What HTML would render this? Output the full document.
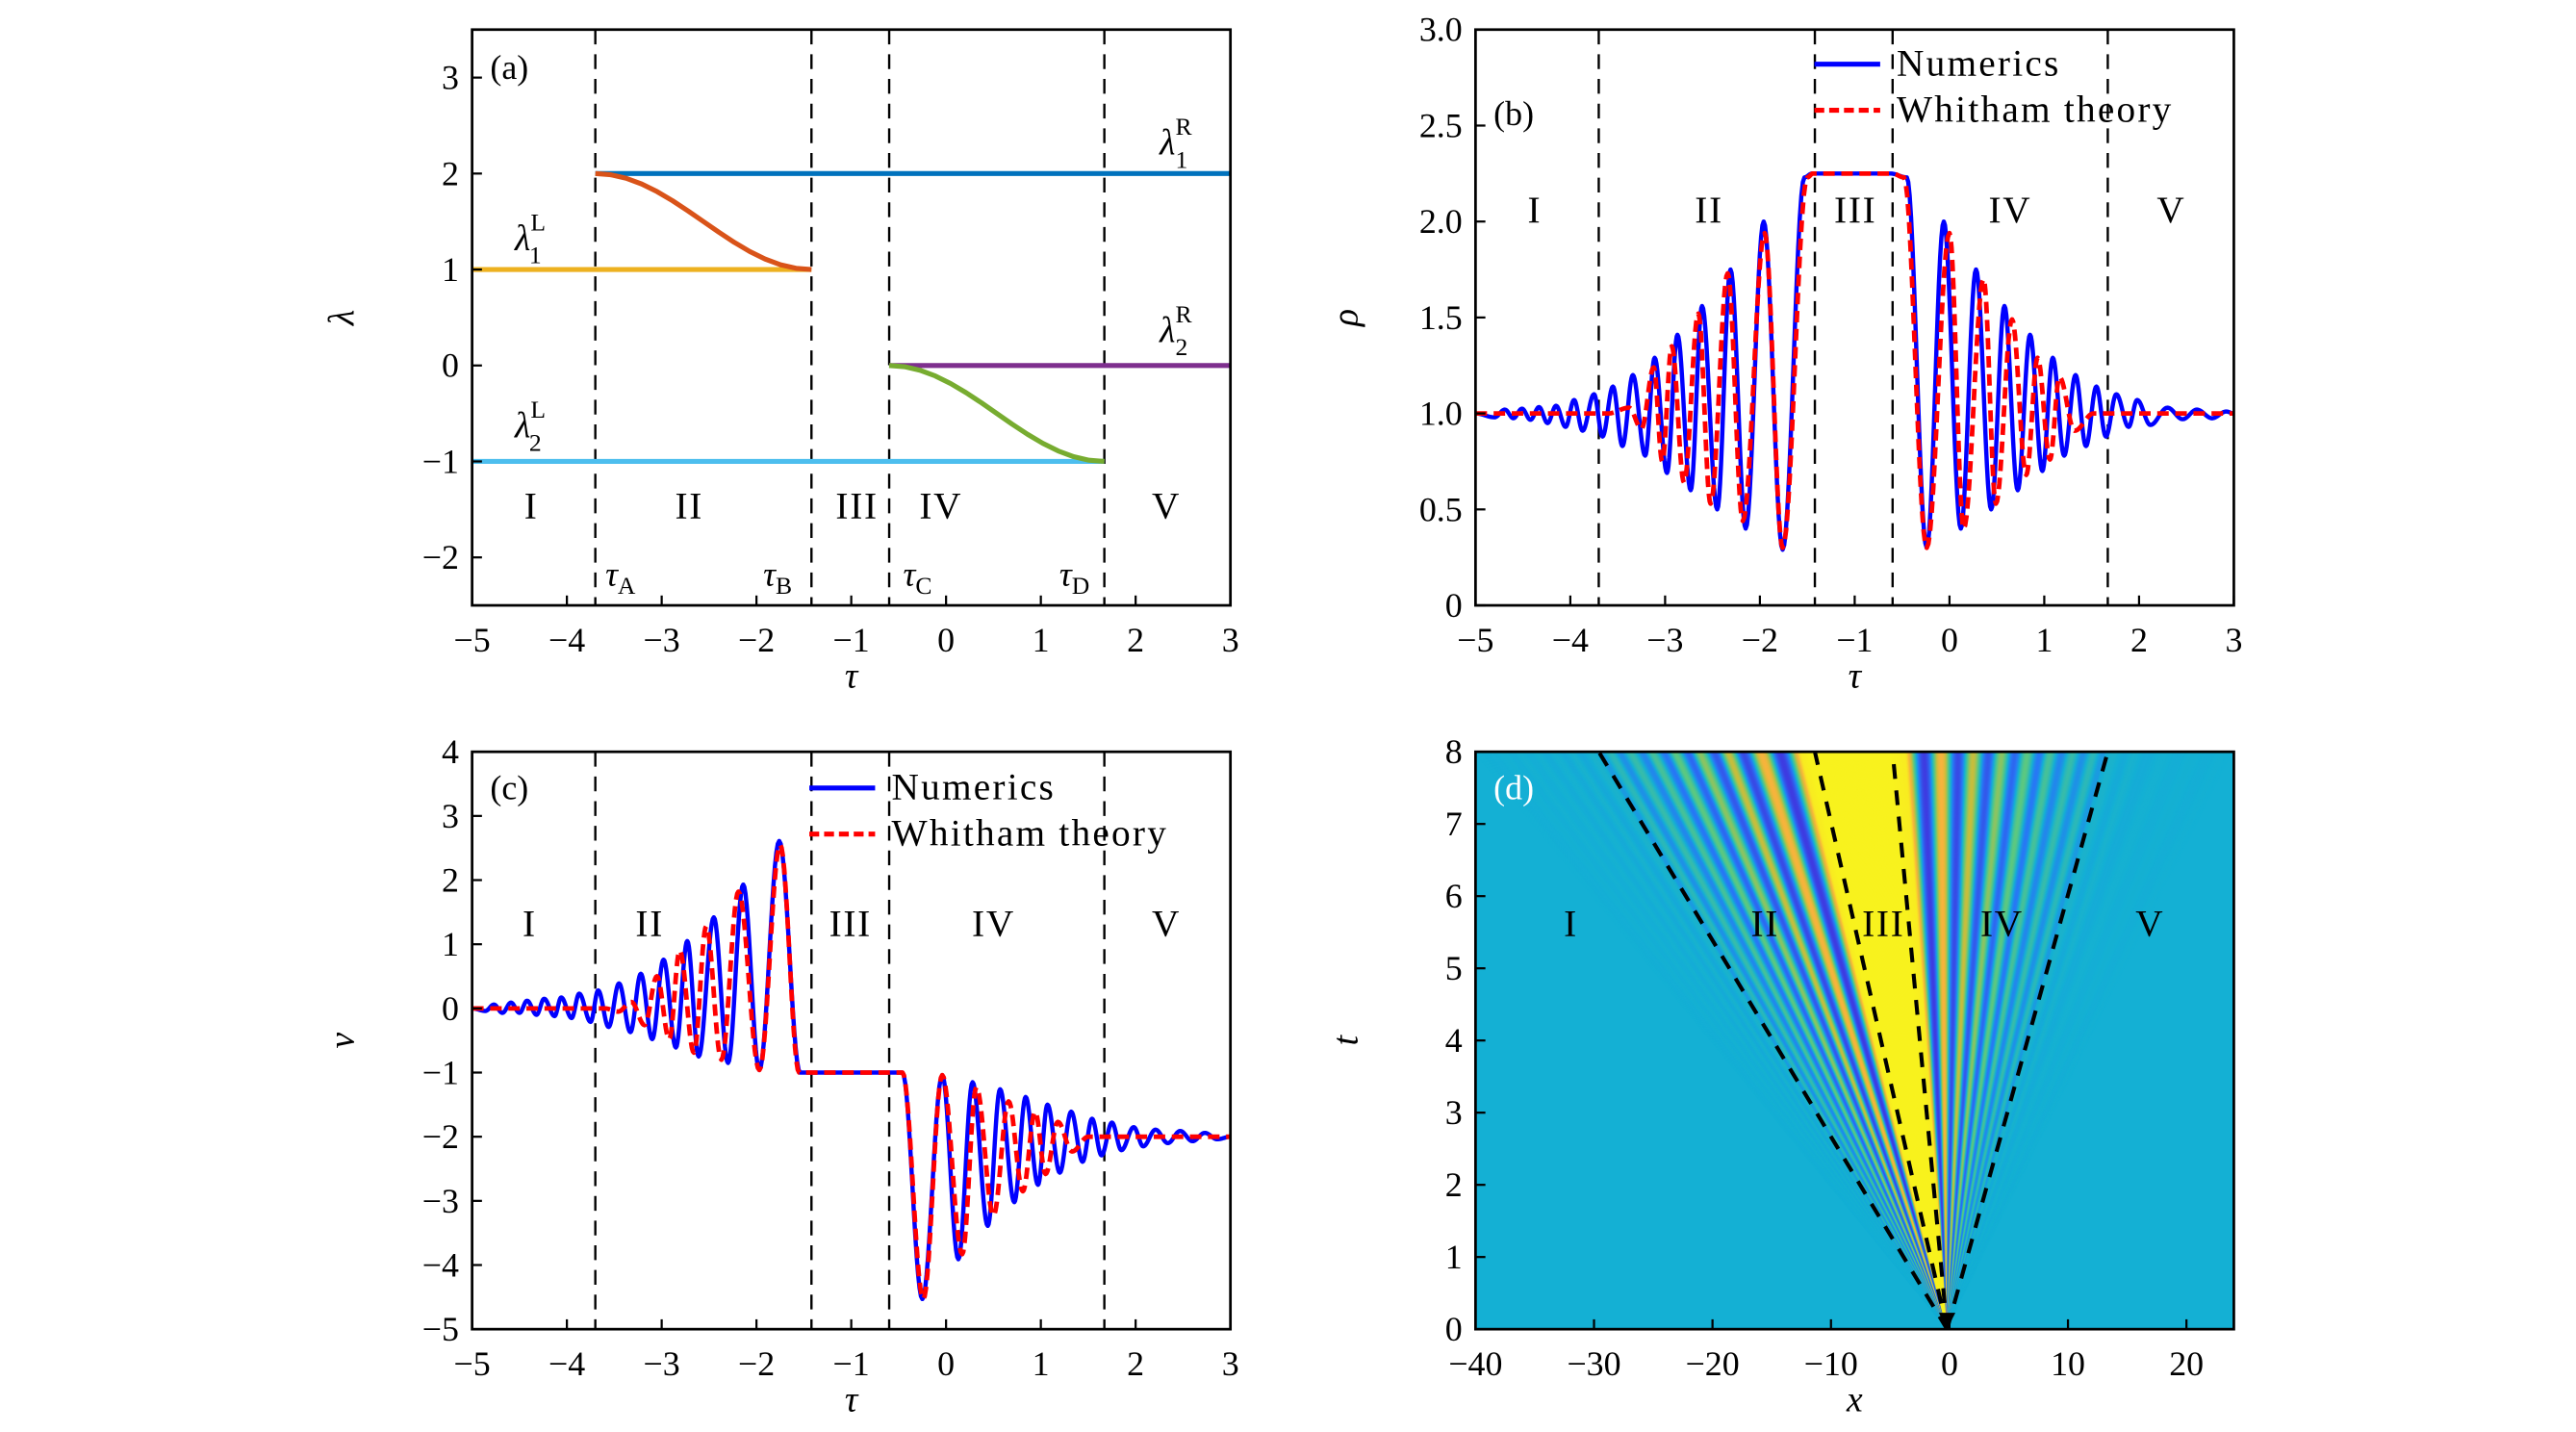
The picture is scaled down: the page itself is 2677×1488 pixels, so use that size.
<!DOCTYPE html>
<html><head><meta charset="utf-8"><style>
html,body{margin:0;padding:0;background:#fff;}
svg{display:block;font-family:"Liberation Serif",serif;}
</style></head><body>
<svg id="fig" width="2677" height="1488" viewBox="0 0 1566 870.5" preserveAspectRatio="none" xmlns="http://www.w3.org/2000/svg"></svg>
<script>
// ---------- data ----------
const tauBounds = [-3.7, -1.42, -0.6, 1.67];
const regionLabels = ["I","II","III","IV","V"];
// panel (a)
const lam1R_tau = [-3.7, 3], lam1R_val = [2, 2];
const lam1L_tau = [-5, -1.42], lam1L_val = [1, 1];
const lamFan1_tau = [-3.7, -1.42], lamFan1_val = [2, 1];
const lam2R_tau = [-0.6, 3], lam2R_val = [0, 0];
const lamFan2_tau = [-0.6, 1.67], lamFan2_val = [0, -1];
const lam2L_tau = [-5, 1.67], lam2L_val = [-1, -1];
// panel (b) rho extrema
const rhoNum_tau = [-5,-4.8,-4.69,-4.6,-4.51,-4.42,-4.33,-4.24,-4.15,-4.05,-3.96,-3.87,-3.75,-3.66,-3.55,-3.45,-3.34,-3.21,-3.11,-2.98,-2.87,-2.73,-2.61,-2.45,-2.31,-2.15,-1.96,-1.76,-1.53,-1.45,-0.62,-0.45,-0.24,-0.06,0.12,0.28,0.44,0.58,0.72,0.85,0.98,1.09,1.21,1.33,1.44,1.55,1.65,1.76,1.89,1.98,2.12,2.3,2.46,2.61,2.77,2.92,3];
const rhoNum_val = [1,0.98,1.02,0.975,1.025,0.967,1.033,0.95,1.04,0.93,1.07,0.91,1.1,0.88,1.14,0.83,1.2,0.78,1.29,0.69,1.41,0.6,1.56,0.5,1.75,0.4,2.0,0.29,2.23,2.25,2.25,2.23,0.3,2.0,0.4,1.75,0.5,1.56,0.6,1.41,0.7,1.29,0.78,1.2,0.83,1.14,0.88,1.1,0.93,1.07,0.94,1.03,0.97,1.02,0.975,1.01,1];
const rhoWh_tau = [-5,-3.6,-3.38,-3.25,-3.12,-3.03,-2.93,-2.8,-2.65,-2.52,-2.34,-2.18,-1.95,-1.76,-1.5,-1.44,-0.6,-0.48,-0.24,0.0,0.15,0.36,0.49,0.66,0.81,0.93,1.06,1.16,1.32,1.52,3];
const rhoWh_val = [1,1,1.03,0.92,1.24,0.75,1.35,0.64,1.52,0.53,1.73,0.44,1.94,0.3,2.23,2.25,2.25,2.23,0.3,1.94,0.4,1.7,0.53,1.49,0.68,1.29,0.76,1.19,0.91,1.0,1];
// panel (c) velocity extrema
const vNum_tau = [-5,-4.86,-4.77,-4.68,-4.59,-4.5,-4.42,-4.32,-4.24,-4.13,-4.06,-3.95,-3.87,-3.75,-3.67,-3.56,-3.45,-3.33,-3.22,-3.1,-2.98,-2.85,-2.73,-2.61,-2.45,-2.3,-2.14,-1.97,-1.76,-1.54,-0.46,-0.25,-0.04,0.13,0.28,0.44,0.57,0.72,0.84,0.97,1.07,1.2,1.32,1.44,1.54,1.64,1.75,1.85,1.98,2.08,2.21,2.34,2.47,2.6,2.73,2.86,3];
const vNum_val = [0,-0.04,0.06,-0.07,0.09,-0.07,0.12,-0.1,0.15,-0.12,0.17,-0.15,0.23,-0.21,0.28,-0.29,0.39,-0.37,0.54,-0.48,0.76,-0.61,1.05,-0.75,1.42,-0.85,1.93,-0.96,2.61,-1,-1,-4.53,-1.04,-3.91,-1.15,-3.39,-1.26,-3.02,-1.38,-2.75,-1.5,-2.56,-1.61,-2.39,-1.72,-2.29,-1.78,-2.21,-1.85,-2.15,-1.89,-2.1,-1.91,-2.07,-1.94,-2.04,-2];
const vWh_tau = [-5,-3.6,-3.46,-3.32,-3.18,-3.05,-2.92,-2.81,-2.66,-2.53,-2.37,-2.19,-1.97,-1.75,-1.55,-0.46,-0.24,-0.04,0.17,0.32,0.5,0.66,0.81,0.94,1.05,1.18,1.33,1.5,3];
const vWh_val = [0,0,-0.05,0.1,-0.26,0.5,-0.48,0.9,-0.69,1.28,-0.8,1.82,-0.96,2.55,-1,-1,-4.53,-1.04,-3.83,-1.23,-3.23,-1.45,-2.85,-1.61,-2.58,-1.77,-2.23,-2,-2];
</script>
<script>
const S = document.getElementById('fig');
const NS = "http://www.w3.org/2000/svg";
function mk(tag, attrs, parent){const e=document.createElementNS(NS,tag);for(const k in attrs)e.setAttribute(k,attrs[k]);(parent||S).appendChild(e);return e;}
function scale(d0,d1,r0,r1){return v=>r0+(v-d0)*(r1-r0)/(d1-d0);}
const fmt = v => (v<0?"\u2212":"")+Math.abs(v);

function curvePts(ts, vs, sx, sy){
  let d="";
  for(let i=0;i<ts.length-1;i++){
    const n=14;
    for(let k=(i===0?0:1);k<=n;k++){
      const s=k/n, e=(1-Math.cos(Math.PI*s))/2;
      const t=ts[i]+(ts[i+1]-ts[i])*s, v=vs[i]+(vs[i+1]-vs[i])*e;
      d+=(d?"L":"M")+sx(t).toFixed(2)+","+sy(v).toFixed(2);
    }
  }
  return d;
}

function axes(P){
  const g=mk('g',{});
  
  
  P.g=g;
  P.sx=scale(P.xd[0],P.xd[1],P.x0,P.x1);
  P.sy=scale(P.yd[0],P.yd[1],P.y1,P.y0);
  const cid='clip-'+P.name;
  const cp=mk('clipPath',{id:cid},g);mk('rect',{x:P.x0,y:P.y0,width:P.x1-P.x0,height:P.y1-P.y0},cp);
  P.plot=mk('g',{'clip-path':'url(#'+cid+')'},g);
  return P;
}
function frame(P){
  const g=P.g;
  P.xt.forEach(v=>{const x=P.sx(v);
    const t=mk('line',{x1:x,x2:x,y1:P.y1,y2:P.y1-6,stroke:'#000','stroke-width':1.3},g);
    
    const l=mk('text',{x:x,y:P.y1+28,'text-anchor':'middle','font-size':21},g);l.textContent=fmt(v);
    });
  P.yt.forEach((v,i)=>{const y=P.sy(v);
    const t=mk('line',{x1:P.x0,x2:P.x0+6,y1:y,y2:y,stroke:'#000','stroke-width':1.3},g);
    
    const l=mk('text',{x:P.x0-8,y:y+7,'text-anchor':'end','font-size':21},g);l.textContent=P.ytl?P.ytl[i]:fmt(v);
    });
  const r=mk('rect',{x:P.x0,y:P.y0,width:P.x1-P.x0,height:P.y1-P.y0,fill:'none',stroke:'#000','stroke-width':1.6},g);
  
  const xl=mk('text',{x:(P.x0+P.x1)/2,y:P.y1+50,'text-anchor':'middle','font-size':22,'font-style':'italic'},g);xl.textContent=P.xlab;
  
  const yl=mk('text',{x:P.x0-78,y:(P.y0+P.y1)/2+6,'text-anchor':'middle','font-size':22,'font-style':'italic',transform:'rotate(-90 '+(P.x0-78)+' '+((P.y0+P.y1)/2)+')'},g);yl.textContent=P.ylab;
  
  const pl=mk('text',{x:P.lab[0],y:P.lab[1],'font-size':21,fill:P.labc||'#000'},g);pl.textContent=P.tag;
  
}
function series(P,ts,vs,color,dash,name,w){
  const p=mk('path',{d:curvePts(ts,vs,P.sx,P.sy),fill:'none',stroke:color,'stroke-width':w||2.6,'stroke-dasharray':dash||'none','stroke-linejoin':'round'},P.plot);
  
}
function vlines(P){
  tauBounds.forEach(t=>{const x=P.sx(t);
    const l=mk('line',{x1:x,x2:x,y1:P.y0,y2:P.y1,stroke:'#000','stroke-width':1.4,'stroke-dasharray':'9,6'},P.plot);
    });
}
function regions(P,xs,y){
  regionLabels.forEach((r,i)=>{const t=mk('text',{x:xs[i],y:y,'text-anchor':'middle','font-size':23,'letter-spacing':1},P.g);t.textContent=r;
    });
}
function legend(P,x,y){
  const g=mk('g',{},P.g);
  let l=mk('line',{x1:x,x2:x+40,y1:y,y2:y,stroke:'#0000ff','stroke-width':3},g);
  let t=mk('text',{x:x+50,y:y+7,'font-size':23,'letter-spacing':1.3},g);t.textContent='Numerics';
  l=mk('line',{x1:x,x2:x+40,y1:y+28,y2:y+28,stroke:'#ff0000','stroke-width':3,'stroke-dasharray':'6,3'},g);
  t=mk('text',{x:x+50,y:y+35,'font-size':23,'letter-spacing':1.3},g);t.textContent='Whitham theory';
}

// ---- Panel A ----
const A=axes({name:'panel-a-lambda',x0:287,x1:748,y0:18,y1:368,xd:[-5,3],yd:[-2.5,3.5],xt:[-5,-4,-3,-2,-1,0,1,2,3],yt:[-2,-1,0,1,2,3],xlab:'τ',ylab:'λ',tag:'(a)',lab:[298,48]});
vlines(A);
series(A,lam1L_tau,lam1L_val,'#EDB120',null,'lambda1-left',3);
series(A,lam2L_tau,lam2L_val,'#4DBEEE',null,'lambda2-left',3);
series(A,lam1R_tau,lam1R_val,'#0072BD',null,'lambda1-right',3);
series(A,lam2R_tau,lam2R_val,'#7E2F8E',null,'lambda2-right',3);
series(A,lamFan1_tau,lamFan1_val,'#D95319',null,'lambda1-fan',3);
series(A,lamFan2_tau,lamFan2_val,'#77AC30',null,'lambda2-fan',3);
frame(A);
regions(A,[323,419,521,572,709],315);
function lamLabel(x,y,sup,sub,name){
  const t=mk('text',{x:x,y:y,'font-size':22,'font-style':'italic'},A.g);
  
  const a=mk('tspan',{},t);a.textContent='λ';
  const b=mk('tspan',{dy:-12,'font-size':15,'font-style':'normal'},t);b.textContent=sup;
  const c=mk('tspan',{dx:-10,dy:20,'font-size':15,'font-style':'normal'},t);c.textContent=sub;
}
lamLabel(313,152,'L','1','label-lambda1-left');
lamLabel(705,94,'R','1','label-lambda1-right');
lamLabel(705,208,'R','2','label-lambda2-right');
lamLabel(313,266,'L','2','label-lambda2-left');
[['A',368],['B',464],['C',549],['D',644]].forEach(([s,x])=>{
  const t=mk('text',{x:x,y:356,'font-size':21,'font-style':'italic'},A.g);
  
  const a=mk('tspan',{},t);a.textContent='τ';const b=mk('tspan',{dy:5,'font-size':15,'font-style':'normal'},t);b.textContent=s;
});

// ---- Panel B ----
const B=axes({name:'panel-b-rho',x0:897,x1:1358,y0:18,y1:368,xd:[-5,3],yd:[0,3],xt:[-5,-4,-3,-2,-1,0,1,2,3],yt:[0,0.5,1,1.5,2,2.5,3],ytl:['0','0.5','1.0','1.5','2.0','2.5','3.0'],xlab:'τ',ylab:'ρ',tag:'(b)',lab:[908,76]});
vlines(B);
series(B,rhoNum_tau,rhoNum_val,'#0000ff',null,'rho-numerics',2.6);
series(B,rhoWh_tau,rhoWh_val,'#ff0000','7,4','rho-whitham',2.8);
frame(B);
regions(B,[933,1039,1128,1222,1320],135);
legend(B,1103,39);

// ---- Panel C ----
const C=axes({name:'panel-c-velocity',x0:287,x1:748,y0:457,y1:808,xd:[-5,3],yd:[-5,4],xt:[-5,-4,-3,-2,-1,0,1,2,3],yt:[-5,-4,-3,-2,-1,0,1,2,3,4],xlab:'τ',ylab:'v',tag:'(c)',lab:[298,486]});
vlines(C);
series(C,vNum_tau,vNum_val,'#0000ff',null,'v-numerics',2.6);
series(C,vWh_tau,vWh_val,'#ff0000','7,4','v-whitham',2.8);
frame(C);
regions(C,[322,395,517,604,709],569);
legend(C,492,479);

// ---- Panel D ----
const D=axes({name:'panel-d-heatmap',x0:897,x1:1358,y0:457,y1:808,xd:[-40,24],yd:[0,8],xt:[-40,-30,-20,-10,0,10,20],yt:[0,1,2,3,4,5,6,7,8],xlab:'x',ylab:'t',tag:'(d)',lab:[908,486],labc:'#fff'});
const stops=[[0.3,[62,60,225]],[0.7,[40,120,245]],[1.0,[20,176,212]],[1.4,[90,200,130]],[1.75,[200,190,60]],[2.0,[248,180,60]],[2.25,[248,242,30]]];
function cmap(v){
  if(v<=stops[0][0])return stops[0][1];
  for(let i=0;i<stops.length-1;i++){if(v<=stops[i+1][0]){const s=(v-stops[i][0])/(stops[i+1][0]-stops[i][0]);
    return stops[i][1].map((c,j)=>Math.round(c+(stops[i+1][1][j]-c)*s));}}
  return stops[stops.length-1][1];
}
const bg=mk('rect',{x:D.x0,y:D.y0,width:D.x1-D.x0,height:D.y1-D.y0,fill:'rgb(20,176,212)'},D.plot);

function rhoAt(t){
  const ts=rhoNum_tau,vs=rhoNum_val;
  if(t<=ts[0]||t>=ts[ts.length-1])return 1;
  for(let i=0;i<ts.length-1;i++){if(t<=ts[i+1]){const s=(t-ts[i])/(ts[i+1]-ts[i]);return vs[i]+(vs[i+1]-vs[i])*(1-Math.cos(Math.PI*s))/2;}}
  return 1;
}
const heat=mk('g',{},D.plot);
const ox=D.sx(-0.2), oy=D.sy(0), ty=D.sy(8);
for(let t=-5;t<3;t+=0.01){
  const r=rhoAt(t+0.005);
  const fade=(t<-3.7||t>1.67)?0.4:1;
  const c=cmap(1+(r-1)*fade);const col='rgb('+c.join(',')+')';
  mk('polygon',{points:ox+','+oy+' '+D.sx(t*8-0.2)+','+ty+' '+D.sx((t+0.01)*8-0.2)+','+ty,fill:col,stroke:col,'stroke-width':0.4},heat);
}
tauBounds.forEach(t=>{
  const l=mk('line',{x1:ox,y1:oy,x2:D.sx(t*8),y2:ty,stroke:'#000','stroke-width':2.4,'stroke-dasharray':'9,7'},D.plot);
  
});
const om=mk('polygon',{points:(ox-5)+','+(oy-10)+' '+(ox+5)+','+(oy-10)+' '+ox+','+oy,fill:'#000'},D.plot);

frame(D);
regions(D,[955,1073,1145,1217,1307],569);
</script>
</body></html>
